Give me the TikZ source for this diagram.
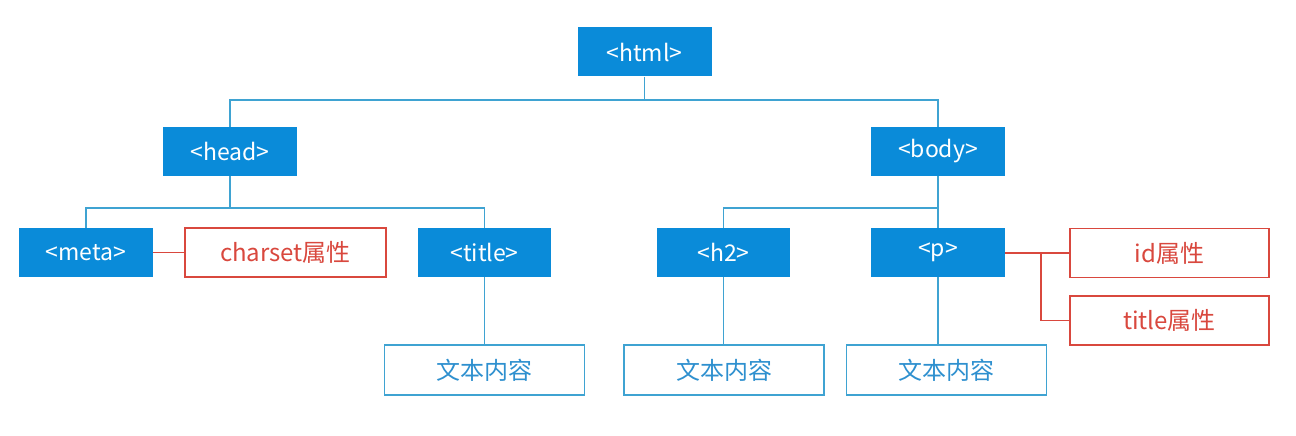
\documentclass[tikz,border=0pt]{standalone}
\usepackage{fontspec}
\setmainfont{Noto Sans CJK SC}
\definecolor{bfill}{HTML}{0A8BD9}
\definecolor{bline}{HTML}{3FA3D2}
\definecolor{rline}{HTML}{D9483E}
\definecolor{btext}{HTML}{2E90CF}
\begin{document}
\begin{tikzpicture}[x=1pt,y=-1pt,
  tag/.style={fill=bfill,draw=none,text=white,minimum width=134pt,minimum height=49pt,inner sep=0pt,font=\fontsize{23}{26}\selectfont},
  txt/.style={fill=white,draw=bline,line width=1.2pt,text=btext,minimum width=200pt,minimum height=50pt,inner sep=0pt,font=\fontsize{24}{27}\selectfont},
  attr/.style={fill=white,draw=rline,line width=1.2pt,text=rline,minimum width=200pt,minimum height=49pt,inner sep=0pt,font=\fontsize{24}{27}\selectfont},
  bl/.style={draw=bline,line width=1.2pt},
  rl/.style={draw=rline,line width=1.2pt}]
\useasboundingbox (0,0) rectangle (1296,436);
\node[tag] (html) at (644.5,52) {<html>};
\node[tag] (head) at (230,151.5) {<head>};
\node[tag] (body) at (938,151.5) {<body>};
\node[tag] (meta) at (86,252.5) {<meta>};
\node[attr,minimum width=201pt] (charset) at (285.5,252.5) {charset属性};
\node[tag,minimum width=133pt] (title) at (484.5,252.5) {<title>};
\node[tag,minimum width=133pt] (h2) at (723.5,252.5) {<h2>};
\node[tag] (p) at (938,252.5) {<p>};
\node[attr,minimum width=199pt] (id) at (1169.5,253) {id属性};
\node[attr,minimum width=199pt] (tattr) at (1169.5,320.5) {title属性};
\node[txt] (t1) at (484.5,370) {文本内容};
\node[txt] (t2) at (724,370) {文本内容};
\node[txt] (t3) at (946.5,370) {文本内容};
\coordinate (b1) at (644.5,100);
\coordinate (b2) at (230,208);
\coordinate (b3) at (938,208);
\coordinate (rb) at (1041,253);
\draw[bl] (html.south) -- (b1);
\draw[bl] (head.north) |- (b1) -| (body.north);
\draw[bl] (head.south) -- (b2);
\draw[bl] (meta.north) |- (b2) -| (title.north);
\draw[bl] (body.south) -- (p.north);
\draw[bl] (h2.north) |- (b3);
\draw[rl] (meta.east) -- (charset.west);
\draw[bl] (title.south) -- (t1.north);
\draw[bl] (h2.south) -- (h2.south |- t2.north);
\draw[bl] (p.south) -- (p.south |- t3.north);
\draw[rl] (p.east |- id.west) -- (id.west);
\draw[rl] (rb) |- (tattr.west);
\end{tikzpicture}
\end{document}
